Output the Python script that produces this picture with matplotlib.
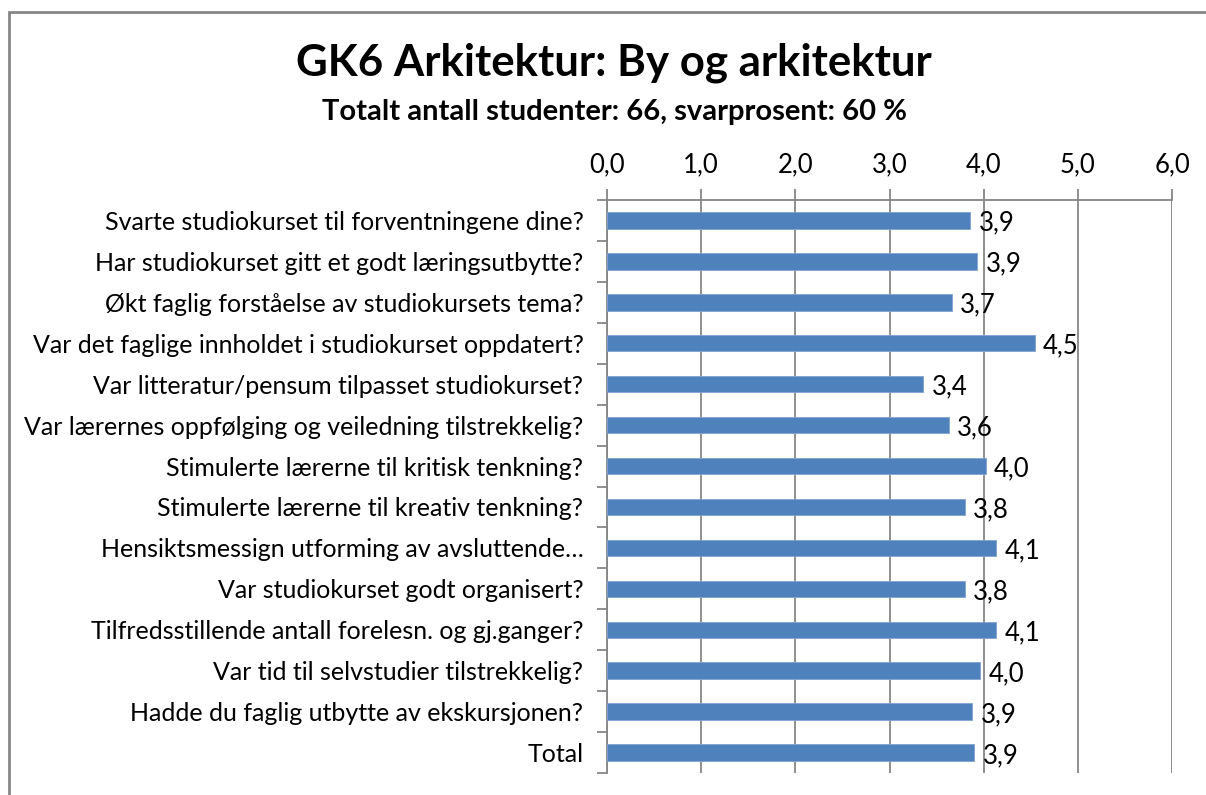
import matplotlib
matplotlib.use("Agg")
import matplotlib.pyplot as plt
from matplotlib.patches import Rectangle

title = "GK6 Arkitektur: By og arkitektur"
subtitle = "Totalt antall studenter: 66, svarprosent: 60 %"
categories = [
    "Svarte studiokurset til forventningene dine?",
    "Har studiokurset gitt et godt læringsutbytte?",
    "Økt faglig forståelse av studiokursets tema?",
    "Var det faglige innholdet i studiokurset oppdatert?",
    "Var litteratur/pensum tilpasset studiokurset?",
    "Var lærernes oppfølging og veiledning tilstrekkelig?",
    "Stimulerte lærerne til kritisk tenkning?",
    "Stimulerte lærerne til kreativ tenkning?",
    "Hensiktsmessign utforming av avsluttende…",
    "Var studiokurset godt organisert?",
    "Tilfredsstillende antall forelesn. og gj.ganger?",
    "Var tid til selvstudier tilstrekkelig?",
    "Hadde du faglig utbytte av ekskursjonen?",
    "Total",
]
values = [3.86, 3.93, 3.66, 4.54, 3.36, 3.63, 4.02, 3.80, 4.13, 3.80, 4.13, 3.96, 3.88, 3.90]
xticks = [0, 1, 2, 3, 4, 5, 6]

plt.rcParams['font.family'] = ['Lato', 'DejaVu Sans']

W, H = 1206, 795
fig = plt.figure(figsize=(W / 100, H / 100), dpi=100)
ax = fig.add_axes([607 / W, 1 - 773 / H, (1172 - 607) / W, (773 - 200) / H])

n = len(categories)
ypos = list(range(n))
ax.barh(ypos, values, height=0.4, color="#4F81BD", edgecolor="#7FA3D0", linewidth=0.6, zorder=3)
ax.set_ylim(n - 0.5, -0.5)
ax.set_xlim(0, 6)

ax.xaxis.tick_top()
ax.set_xticks(xticks)
ax.set_xticklabels([f"{v:.1f}".replace(".", ",") for v in xticks], fontsize=18.5)
ax.tick_params(axis="x", length=8, color="#868686", width=1.3, pad=8)
ax.grid(axis="x", color="#868686", linewidth=1.3, zorder=1)

ax.set_yticks(ypos)
ax.set_yticklabels(categories, fontsize=18)
ax.tick_params(axis="y", length=0, pad=17)
ax.set_yticks([i - 0.5 for i in range(n + 1)], minor=True)
ax.tick_params(axis="y", which="minor", length=7, color="#868686", width=1.3)

for s in ["right", "bottom"]:
    ax.spines[s].set_visible(False)
for s in ["top", "left"]:
    ax.spines[s].set_color("#868686")
    ax.spines[s].set_linewidth(1.3)

for y, v in zip(ypos, values):
    ax.annotate(f"{v:.1f}".replace(".", ","), xy=(v, y), xytext=(6, -2),
                textcoords="offset points", ha="left", va="center", fontsize=18.5)

fig.text(614 / W, 1 - 63 / H, title, ha="center", va="center", fontsize=31.5, fontweight="bold")
fig.text(614 / W, 1 - 112 / H, subtitle, ha="center", va="center", fontsize=21, fontweight="bold")

fig.patches.append(Rectangle((9 / W, -0.1), 1.2, 1 - 11.5 / H + 0.1, transform=fig.transFigure,
                             fill=False, edgecolor="#868686", linewidth=2))

fig.savefig("out.png", dpi=100)
